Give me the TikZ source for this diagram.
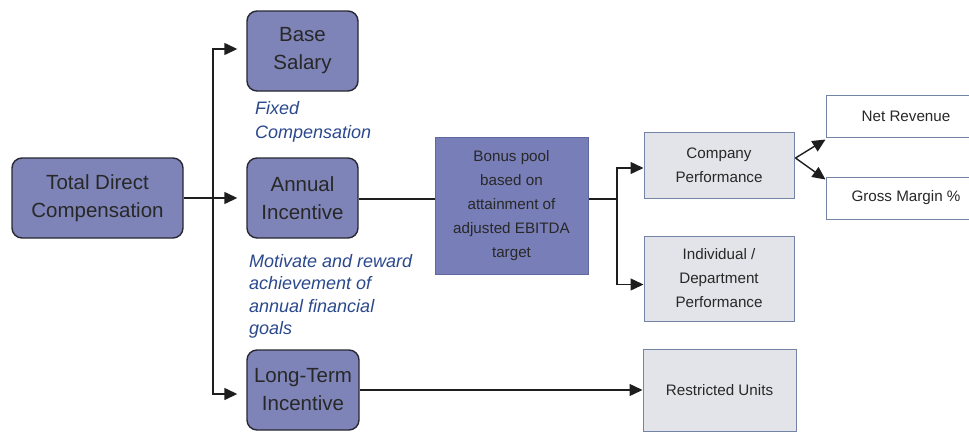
\documentclass[tikz,border=0pt]{standalone}
\usepackage{fontspec}
\setmainfont{Liberation Sans}
\usetikzlibrary{arrows.meta,calc}
\definecolor{mainfill}{RGB}{126,131,184}
\definecolor{mainborder}{RGB}{40,40,50}
\definecolor{bonusfill}{RGB}{120,126,184}
\definecolor{bonusborder}{RGB}{95,105,160}
\definecolor{lightfill}{RGB}{226,228,233}
\definecolor{lightborder}{RGB}{115,132,165}
\definecolor{notecol}{RGB}{42,72,140}
\definecolor{txt}{RGB}{40,40,40}
\definecolor{linecol}{RGB}{30,30,30}
\begin{document}
\begin{tikzpicture}[x=1pt,y=-1pt,
  mainbox/.style={draw=mainborder, fill=mainfill, line width=1.4pt, rounded corners=10pt,
    minimum width=#1, minimum height=80pt, inner sep=0pt, align=center, text=txt,
    font=\fontsize{20.5}{28}\selectfont},
  bonusbox/.style={draw=bonusborder, fill=bonusfill, line width=1pt,
    minimum width=153pt, minimum height=137pt, inner sep=0pt, align=center, text=txt,
    font=\fontsize{15.2}{24}\selectfont},
  lightbox/.style={draw=lightborder, fill=lightfill, line width=1pt,
    minimum width=150pt, inner sep=0pt, align=center, text=txt,
    font=\fontsize{15.2}{24}\selectfont},
  whitebox/.style={draw=lightborder, fill=white, line width=1pt,
    minimum width=160pt, minimum height=42pt, inner sep=0pt, align=center, text=txt,
    font=\fontsize{15.2}{24}\selectfont},
  note/.style={anchor=north west, inner sep=0pt, align=left, text=notecol,
    font=\itshape\fontsize{18}{24}\selectfont},
  conn/.style={draw=linecol, line width=1.4pt},
  arr/.style={conn, -{Triangle[length=13pt,width=12pt]}}
]
\useasboundingbox (0,0) rectangle (969,431);
\clip (0,0) rectangle (969,431);

% nodes
\node[mainbox=171pt] (tdc) at (97.5,198) {Total Direct\\Compensation};
\node[mainbox=111pt] (bs) at (302.5,51) {Base\\Salary};
\node[mainbox=111pt] (ai) at (302.5,198) {Annual\\Incentive};
\node[mainbox=112pt] (lti) at (303,390) {Long-Term\\Incentive};

\node[note] (fc) at (255,101) {Fixed\\Compensation};
\node[note, font=\itshape\fontsize{18}{22.5}\selectfont] (mot) at (249,254) {Motivate and reward\\achievement of\\annual financial\\goals};

\node[bonusbox] (bp) at (511.5,205.5) {Bonus pool\\based on\\attainment of\\adjusted EBITDA\\target};

\node[lightbox, minimum height=66pt] (cp) at (719,165) {Company\\Performance};
\node[lightbox, minimum height=85pt] (idp) at (719,278.5) {Individual /\\Department\\Performance};
\node[lightbox, minimum width=153pt, minimum height=82pt] (ru) at (719.5,390) {Restricted Units};

\node[whitebox] (nr) at (906,116) {Net Revenue};
\node[whitebox] (gm) at (906,198) {Gross Margin \%};

% connectors
\coordinate (sp) at (213,198);
\draw[arr, shorten >=9pt] (tdc) -- (ai);
\draw[arr, shorten >=9pt] (sp) |- ($(bs.west)+(0,-2)$);
\draw[arr, shorten >=9pt] (sp) |- ($(lti.west)+(0,4)$);
\draw[arr] (lti.east |- ru) -- (ru);

\coordinate (sp2) at (617,199);
\draw[conn] (ai.east |- sp2) -- (bp.west |- sp2);
\draw[conn] (bp.east |- sp2) -- (sp2);
\draw[arr] (sp2) |- ($(cp.west)+(0,3)$);
\draw[arr] (sp2) |- ($(idp.west)+(0,6)$);

\coordinate (ap) at ($(cp.east)+(1,-7)$);
\draw[arr] (ap) -- ($(nr.south west)+(0,2)$);
\draw[arr] (ap) -- ($(gm.north west)+(0,3)$);
\end{tikzpicture}
\end{document}
